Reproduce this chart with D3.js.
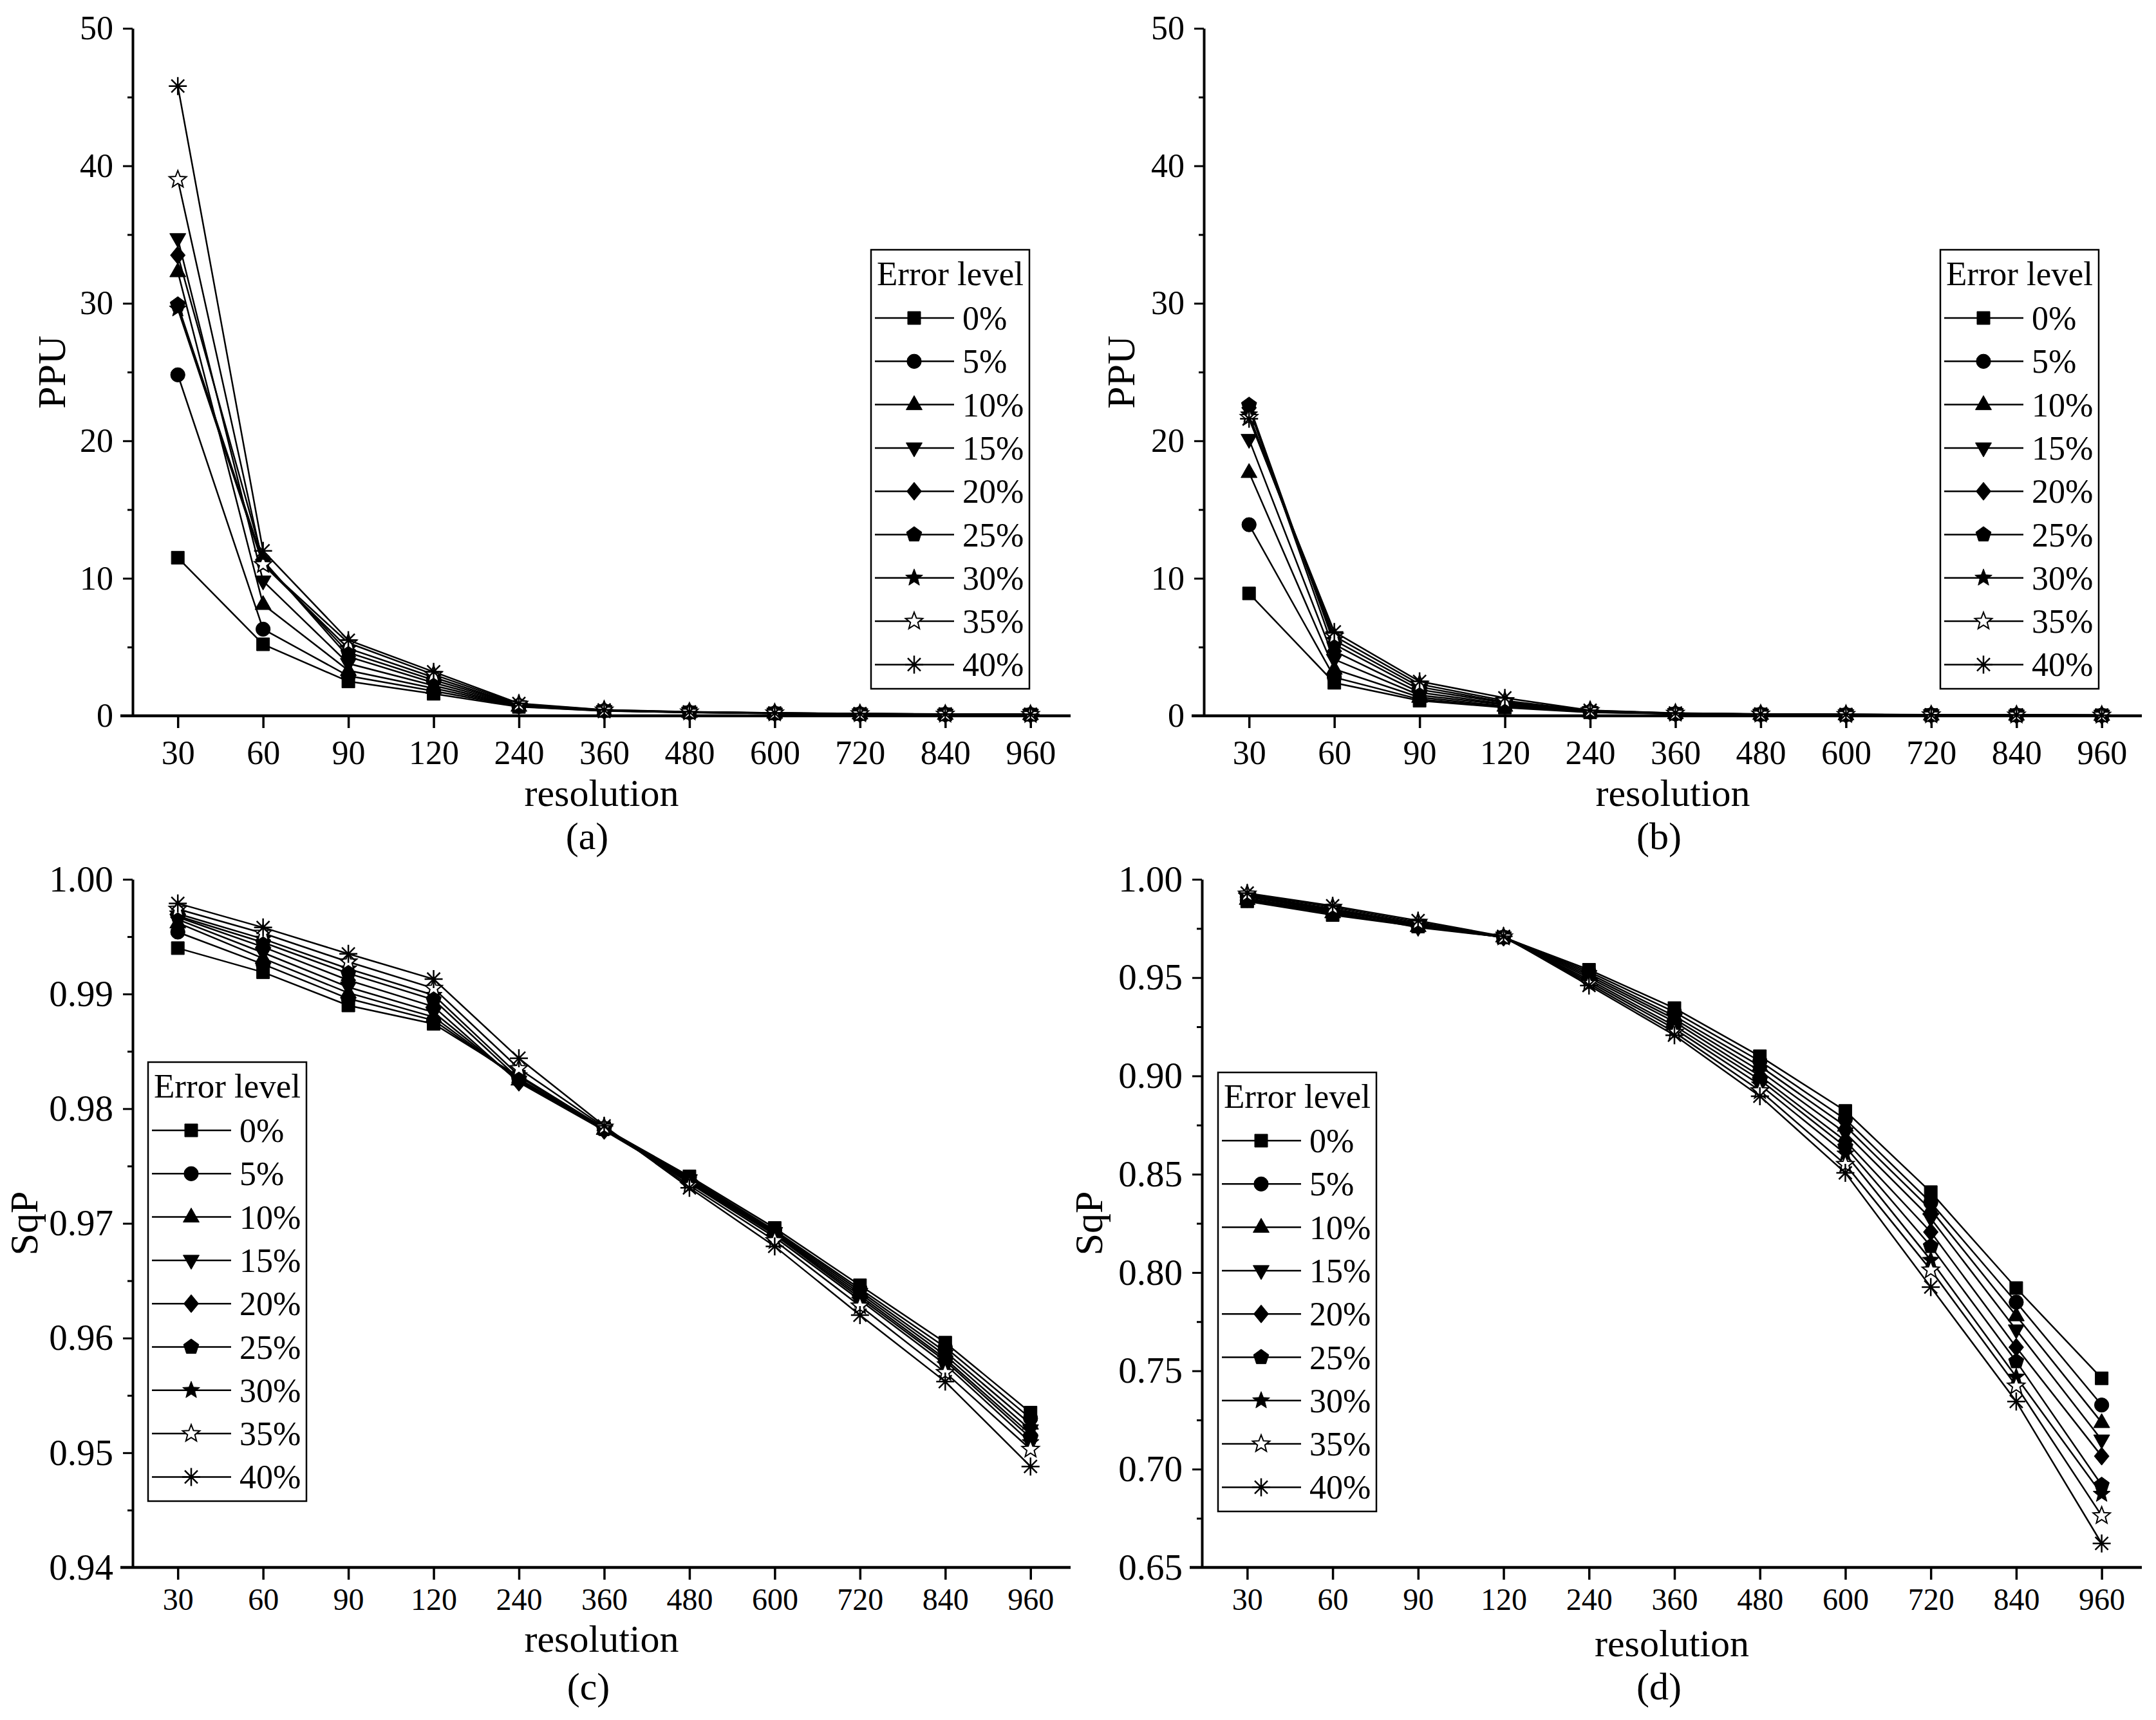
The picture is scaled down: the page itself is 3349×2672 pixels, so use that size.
<!DOCTYPE html>
<html>
<head>
<meta charset="utf-8">
<title>PPU and SqP against resolution</title>
<style>
  body { margin: 0; background: #fff; }
  text { font-family: "Liberation Serif", "Times New Roman", serif; fill: #000; }
</style>
</head>
<body>
<script src="https://d3js.org/d3.v7.min.js"></script>
<script>
// categories
var resolutions = ["30", "60", "90", "120", "240", "360", "480", "600", "720", "840", "960"];
var errorLevels = ["0%", "5%", "10%", "15%", "20%", "25%", "30%", "35%", "40%"];

// (a) PPU, one row per error level
var ppuA = [
  [11.5, 5.2, 2.5, 1.6, 0.65, 0.35, 0.25, 0.18, 0.13, 0.11, 0.09],
  [24.8, 6.3, 2.9, 1.8, 0.68, 0.36, 0.25, 0.18, 0.13, 0.11, 0.09],
  [32.3, 8.1, 3.3, 2.0, 0.70, 0.37, 0.26, 0.19, 0.14, 0.11, 0.09],
  [34.7, 9.8, 3.8, 2.2, 0.72, 0.38, 0.26, 0.19, 0.14, 0.11, 0.10],
  [33.5, 11.3, 4.3, 2.4, 0.75, 0.38, 0.27, 0.20, 0.14, 0.12, 0.10],
  [29.9, 11.2, 4.6, 2.6, 0.78, 0.39, 0.27, 0.20, 0.15, 0.12, 0.10],
  [29.6, 11.0, 4.9, 2.8, 0.80, 0.40, 0.28, 0.20, 0.15, 0.12, 0.10],
  [39.0, 11.0, 5.3, 3.0, 0.85, 0.42, 0.28, 0.21, 0.15, 0.12, 0.10],
  [45.8, 12.0, 5.5, 3.2, 0.90, 0.43, 0.29, 0.21, 0.16, 0.13, 0.11]
];

// (b) PPU
var ppuB = [
  [8.9, 2.4, 1.1, 0.60, 0.25, 0.15, 0.10, 0.08, 0.06, 0.05, 0.04],
  [13.9, 2.8, 1.2, 0.65, 0.27, 0.15, 0.11, 0.08, 0.06, 0.05, 0.04],
  [17.7, 3.4, 1.35, 0.70, 0.28, 0.16, 0.11, 0.08, 0.06, 0.05, 0.04],
  [20.1, 4.1, 1.5, 0.80, 0.30, 0.16, 0.11, 0.08, 0.07, 0.05, 0.04],
  [22.4, 4.7, 1.7, 0.85, 0.32, 0.17, 0.12, 0.09, 0.07, 0.05, 0.04],
  [22.6, 5.2, 1.9, 0.95, 0.34, 0.17, 0.12, 0.09, 0.07, 0.06, 0.05],
  [21.9, 5.5, 2.1, 1.0, 0.36, 0.18, 0.12, 0.09, 0.07, 0.06, 0.05],
  [21.7, 5.8, 2.3, 1.1, 0.38, 0.19, 0.13, 0.10, 0.07, 0.06, 0.05],
  [21.6, 6.1, 2.5, 1.3, 0.40, 0.20, 0.13, 0.10, 0.08, 0.06, 0.05]
];

// (c) SqP
var sqpC = [
  [0.9940, 0.9919, 0.9890, 0.9874, 0.9828, 0.9783, 0.9741, 0.9696, 0.9646, 0.9596, 0.9535],
  [0.9954, 0.9926, 0.9896, 0.9877, 0.9826, 0.9783, 0.9740, 0.9694, 0.9643, 0.9592, 0.9530],
  [0.9962, 0.9931, 0.9901, 0.9880, 0.9825, 0.9782, 0.9739, 0.9693, 0.9641, 0.9588, 0.9525],
  [0.9965, 0.9936, 0.9906, 0.9884, 0.9824, 0.9782, 0.9738, 0.9692, 0.9639, 0.9585, 0.9520],
  [0.9967, 0.9941, 0.9912, 0.9889, 0.9823, 0.9781, 0.9737, 0.9691, 0.9637, 0.9582, 0.9516],
  [0.9968, 0.9945, 0.9918, 0.9895, 0.9826, 0.9782, 0.9736, 0.9690, 0.9635, 0.9580, 0.9513],
  [0.9970, 0.9948, 0.9922, 0.9899, 0.9829, 0.9783, 0.9735, 0.9688, 0.9633, 0.9577, 0.9509],
  [0.9974, 0.9953, 0.9928, 0.9905, 0.9835, 0.9784, 0.9733, 0.9685, 0.9628, 0.9570, 0.9503],
  [0.9979, 0.9958, 0.9935, 0.9913, 0.9844, 0.9785, 0.9731, 0.9680, 0.9620, 0.9562, 0.9488]
];

// (d) SqP
var sqpD = [
  [0.9888, 0.9818, 0.9760, 0.9705, 0.9540, 0.9345, 0.9100, 0.8822, 0.8409, 0.7921, 0.7462],
  [0.9893, 0.9825, 0.9763, 0.9706, 0.9530, 0.9325, 0.9075, 0.8780, 0.8356, 0.7849, 0.7326],
  [0.9898, 0.9830, 0.9760, 0.9707, 0.9520, 0.9305, 0.9050, 0.8745, 0.8320, 0.7780, 0.7237],
  [0.9903, 0.9835, 0.9755, 0.9706, 0.9510, 0.9290, 0.9025, 0.8710, 0.8275, 0.7708, 0.7148],
  [0.9910, 0.9840, 0.9765, 0.9705, 0.9500, 0.9275, 0.9000, 0.8670, 0.8206, 0.7620, 0.7066],
  [0.9915, 0.9845, 0.9770, 0.9704, 0.9490, 0.9255, 0.8980, 0.8640, 0.8134, 0.7548, 0.6919],
  [0.9920, 0.9850, 0.9775, 0.9705, 0.9480, 0.9240, 0.8955, 0.8604, 0.8063, 0.7469, 0.6873],
  [0.9925, 0.9858, 0.9782, 0.9707, 0.9470, 0.9222, 0.8925, 0.8550, 0.8013, 0.7423, 0.6763],
  [0.9930, 0.9865, 0.9790, 0.9710, 0.9460, 0.9207, 0.8897, 0.8507, 0.7926, 0.7344, 0.6622]
];

// tick values
var ppuMajor = [0, 10, 20, 30, 40, 50];
var ppuMinor = [5, 15, 25, 35, 45];
var sqpCMajor = [0.94, 0.95, 0.96, 0.97, 0.98, 0.99, 1.00];
var sqpCMinor = [0.945, 0.955, 0.965, 0.975, 0.985, 0.995];
var sqpDMajor = [0.65, 0.70, 0.75, 0.80, 0.85, 0.90, 0.95, 1.00];
var sqpDMinor = [0.675, 0.725, 0.775, 0.825, 0.875, 0.925, 0.975];

var serif = '"Liberation Serif", "Times New Roman", serif';
var svg = d3.select('body').append('svg')
    .attr('width', 3349).attr('height', 2672);

// marker shapes in the order of errorLevels
function poly(pts) {
    return 'M' + pts.map(function (p) { return p[0].toFixed(2) + ',' + p[1].toFixed(2); }).join('L') + 'Z';
}
function ring(n, r, rot) {
    var pts = [];
    for (var i = 0; i < n; i++) {
        var a = rot + i * 2 * Math.PI / n;
        pts.push([r * Math.cos(a), r * Math.sin(a)]);
    }
    return pts;
}
function starPts(ro, ri) {
    var pts = [];
    for (var i = 0; i < 10; i++) {
        var a = -Math.PI / 2 + i * Math.PI / 5;
        var r = i % 2 ? ri : ro;
        pts.push([r * Math.cos(a), r * Math.sin(a)]);
    }
    return pts;
}
var shapes = [
    poly([[-10, -10], [10, -10], [10, 10], [-10, 10]]),
    d3.symbol().type(d3.symbolCircle).size(390)(),
    poly([[0, -14], [12.5, 8], [-12.5, 8]]),
    poly([[0, 14], [12.5, -8], [-12.5, -8]]),
    poly([[0, -14], [11.5, 0], [0, 14], [-11.5, 0]]),
    poly(ring(5, 12.5, -Math.PI / 2)),
    poly(starPts(14, 6)),
    poly(starPts(14, 6)),
    'M0,-14V14M-14,0H14M-10,-10L10,10M10,-10L-10,10'
];

function drawMarker(g, k, cx, cy) {
    var m = g.append('path').attr('d', shapes[k])
        .attr('transform', 'translate(' + cx + ',' + cy + ')')
        .attr('stroke', '#000');
    if (k == 7) {
        m.attr('fill', '#fff').attr('stroke-width', 2);
    } else if (k == 8) {
        m.attr('fill', 'none').attr('stroke-width', 2.5);
    } else {
        m.attr('fill', '#000').attr('stroke-width', 1);
    }
}

function drawLegend(lx, ly) {
    var g = svg.append('g');
    g.append('rect').attr('x', lx).attr('y', ly).attr('width', 246).attr('height', 682)
        .attr('fill', '#fff').attr('stroke', '#000').attr('stroke-width', 2.5);
    g.append('text').attr('x', lx + 9).attr('y', ly + 55)
        .attr('font-size', 53).text('Error level');
    errorLevels.forEach(function (name, k) {
        var cy = ly + 106 + k * 67.3;
        g.append('line').attr('x1', lx + 6).attr('x2', lx + 129)
            .attr('y1', cy).attr('y2', cy)
            .attr('stroke', '#000').attr('stroke-width', 2.5);
        drawMarker(g, k, lx + 67, cy);
        g.append('text').attr('x', lx + 142).attr('y', cy + 18)
            .attr('font-size', 52).text(name);
    });
}

function drawPanel(p) {
    var g = svg.append('g');
    var x = d3.scalePoint().domain(resolutions).range([p.x0, p.x1]).padding(0.5).align(0.53);
    var y = d3.scaleLinear().domain(p.domain).range([p.y0, p.y1]);

    // minor y ticks
    g.append('g').attr('transform', 'translate(' + p.x0 + ',0)')
        .call(d3.axisLeft(y).tickValues(p.minor).tickSize(8).tickSizeOuter(0).tickFormat(''))
        .call(function (s) { s.select('.domain').remove(); })
        .selectAll('line').attr('stroke-width', 3);

    // major y ticks and axis line
    var ya = g.append('g').attr('transform', 'translate(' + p.x0 + ',0)')
        .call(d3.axisLeft(y).tickValues(p.major).tickSize(15).tickSizeOuter(0)
            .tickPadding(15).tickFormat(p.fmt));
    ya.attr('font-size', p.yFont).attr('font-family', serif);
    ya.select('.domain').attr('stroke-width', 4);
    ya.selectAll('.tick line').attr('stroke-width', 3);

    // x axis
    var xa = g.append('g').attr('transform', 'translate(0,' + p.y0 + ')')
        .call(d3.axisBottom(x).tickSize(19).tickSizeOuter(0).tickPadding(p.xPad));
    xa.attr('font-size', p.xFont).attr('font-family', serif);
    xa.select('.domain').remove();
    xa.selectAll('.tick line').attr('stroke-width', 3.5);
    g.append('line').attr('x1', p.x0 - 19).attr('x2', p.x1)
        .attr('y1', p.y0).attr('y2', p.y0)
        .attr('stroke', '#000').attr('stroke-width', 4.5);

    // series: line then markers, in legend order
    var line = d3.line()
        .x(function (d, i) { return x(resolutions[i]); })
        .y(function (d) { return y(d); });
    p.data.forEach(function (vals, k) {
        var s = g.append('g');
        s.append('path').attr('d', line(vals))
            .attr('fill', 'none').attr('stroke', '#000').attr('stroke-width', 2.5);
        vals.forEach(function (v, i) {
            drawMarker(s, k, x(resolutions[i]), y(v));
        });
    });

    // titles
    g.append('text').attr('transform', 'translate(' + p.ylabX + ',' + ((p.y0 + p.y1) / 2) + ') rotate(-90)')
        .attr('text-anchor', 'middle').attr('font-size', 62).text(p.ylabel);
    g.append('text').attr('x', (p.x0 + p.x1) / 2).attr('y', p.y0 + p.xlabDy)
        .attr('text-anchor', 'middle').attr('font-size', 60).text('resolution');
    g.append('text').attr('x', p.tagX).attr('y', p.tagY)
        .attr('text-anchor', 'middle').attr('font-size', 60).text(p.tag);

    drawLegend(p.legX, p.legY);
}

var fmtInt = d3.format('d');
var fmt2 = d3.format('.2f');

drawPanel({ x0: 206, x1: 1663, y0: 1112, y1: 44, domain: [0, 50], major: ppuMajor, minor: ppuMinor,
    fmt: fmtInt, yFont: 52, xFont: 52, xPad: 19, data: ppuA, ylabel: 'PPU', ylabX: 101, xlabDy: 140,
    tag: '(a)', tagX: 912, tagY: 1319, legX: 1353, legY: 388 });
drawPanel({ x0: 1870, x1: 3327, y0: 1112, y1: 44, domain: [0, 50], major: ppuMajor, minor: ppuMinor,
    fmt: fmtInt, yFont: 52, xFont: 52, xPad: 19, data: ppuB, ylabel: 'PPU', ylabX: 1762, xlabDy: 140,
    tag: '(b)', tagX: 2577, tagY: 1319, legX: 3014, legY: 388 });
drawPanel({ x0: 206, x1: 1663, y0: 2435, y1: 1366, domain: [0.94, 1.00], major: sqpCMajor, minor: sqpCMinor,
    fmt: fmt2, yFont: 57, xFont: 48, xPad: 13, data: sqpC, ylabel: 'SqP', ylabX: 58, xlabDy: 131,
    tag: '(c)', tagX: 914, tagY: 2640, legX: 230, legY: 1650 });
drawPanel({ x0: 1867, x1: 3327, y0: 2435, y1: 1366, domain: [0.65, 1.00], major: sqpDMajor, minor: sqpDMinor,
    fmt: fmt2, yFont: 57, xFont: 48, xPad: 13, data: sqpD, ylabel: 'SqP', ylabX: 1712, xlabDy: 138,
    tag: '(d)', tagX: 2577, tagY: 2640, legX: 1892, legY: 1666 });
</script>
</body>
</html>
